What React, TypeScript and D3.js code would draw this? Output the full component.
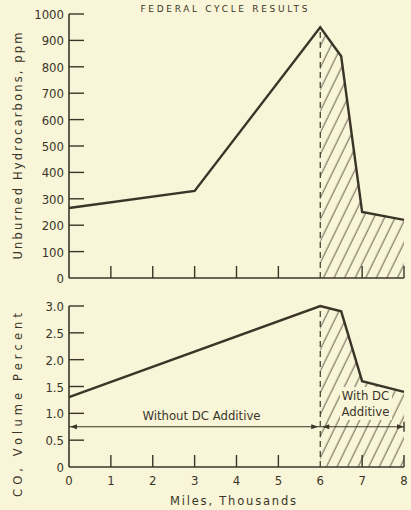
import React from "react";
import * as d3 from "d3";

const W = 411;
const H = 510;

const hcMiles = [0, 3, 6, 6.5, 7, 8];
const hcPpm = [265, 330, 950, 840, 250, 220];
const coMiles = [0, 6, 6.5, 7, 8];
const coPct = [1.3, 3.0, 2.9, 1.6, 1.4];
const hcTicks = [0, 100, 200, 300, 400, 500, 600, 700, 800, 900, 1000];
const coTicks = [0, 0.5, 1.0, 1.5, 2.0, 2.5, 3.0];
const coTickLabels = ["0", "0.5", "1.0", "1.5", "2.0", "2.5", "3.0"];
const mileTicks = [0, 1, 2, 3, 4, 5, 6, 7, 8];
const additiveStart = 6;
const arrowLevel = 0.75;

const INK = "#3a3528";
const BG = "#f9f5d8";
const NUM_FONT = "'Liberation Sans Narrow', 'DejaVu Sans Condensed', sans-serif";
const TXT_FONT = "'DejaVu Sans', sans-serif";

export default function App() {
  const x = d3.scaleLinear().domain([0, 8]).range([69, 404]);
  const yHC = d3.scaleLinear().domain([0, 1000]).range([278, 14]);
  const yCO = d3.scaleLinear().domain([0, 3]).range([467, 306]);

  const hcPts: [number, number][] = hcMiles.map((m, i) => [m, hcPpm[i]]);
  const coPts: [number, number][] = coMiles.map((m, i) => [m, coPct[i]]);

  const lineHC = d3.line<[number, number]>().x((d) => x(d[0])).y((d) => yHC(d[1]));
  const lineCO = d3.line<[number, number]>().x((d) => x(d[0])).y((d) => yCO(d[1]));
  const areaHC = d3
    .area<[number, number]>()
    .x((d) => x(d[0]))
    .y0(yHC(0))
    .y1((d) => yHC(d[1]));
  const areaCO = d3
    .area<[number, number]>()
    .x((d) => x(d[0]))
    .y0(yCO(0))
    .y1((d) => yCO(d[1]));

  const hcHatch = hcPts.filter((d) => d[0] >= additiveStart);
  const coHatch = coPts.filter((d) => d[0] >= additiveStart);
  const hcPeak = hcPts.find((d) => d[0] === additiveStart)![1];
  const coPeak = coPts.find((d) => d[0] === additiveStart)![1];

  const ay = yCO(arrowLevel);
  const arrow = (px: number, dir: number, key: string) => (
    <path
      key={key}
      d={`M${px},${ay} L${px - dir * 7},${ay - 2.5} L${px - dir * 7},${ay + 2.5} Z`}
      fill={INK}
    />
  );

  return (
    <svg
      width={W}
      height={H}
      style={{ position: "absolute", left: 0, top: 0, display: "block" }}
    >
      <defs>
        <pattern
          id="hatch"
          width="9.5"
          height="10"
          patternUnits="userSpaceOnUse"
          patternTransform="rotate(26)"
        >
          <line x1="4" y1="0" x2="4" y2="10" stroke={INK} strokeWidth="0.8" />
        </pattern>
      </defs>
      <rect x={0} y={0} width={W} height={H} fill={BG} />

      {/* Title */}
      <text
        x={224}
        y={12}
        textAnchor="middle"
        fontFamily={TXT_FONT}
        fontSize={9}
        fill={INK}
        textLength={167}
        lengthAdjust="spacing"
      >
        FEDERAL CYCLE RESULTS
      </text>

      {/* ---------- Top panel ---------- */}
      <path d={areaHC(hcHatch) || ""} fill="url(#hatch)" />
      <line
        x1={x(additiveStart)}
        x2={x(additiveStart)}
        y1={yHC(0)}
        y2={yHC(hcPeak)}
        stroke={INK}
        strokeWidth={1.2}
        strokeDasharray="6,4"
      />
      <line x1={x(0)} x2={x(0)} y1={yHC(1000)} y2={yHC(0)} stroke={INK} strokeWidth={1.6} />
      <line x1={x(0)} x2={x(8)} y1={yHC(0)} y2={yHC(0)} stroke={INK} strokeWidth={1.6} />
      {hcTicks.map((t) => (
        <g key={"hy" + t}>
          {t > 0 && (
            <line x1={x(0)} x2={x(0) + 15} y1={yHC(t)} y2={yHC(t)} stroke={INK} strokeWidth={1.4} />
          )}
          <text
            x={64}
            y={yHC(t) + 5}
            textAnchor="end"
            fontFamily={NUM_FONT}
            fontSize={13}
            fill={INK}
          >
            {t}
          </text>
        </g>
      ))}
      {mileTicks
        .filter((m) => m > 0 && m !== additiveStart)
        .map((m) => (
          <line
            key={"hx" + m}
            x1={x(m)}
            x2={x(m)}
            y1={yHC(0)}
            y2={yHC(0) - 12}
            stroke={INK}
            strokeWidth={1.4}
          />
        ))}
      <path d={lineHC(hcPts) || ""} fill="none" stroke={INK} strokeWidth={2.4} strokeLinejoin="miter" />
      <text
        transform={`translate(22,146) rotate(-90)`}
        textAnchor="middle"
        fontFamily={TXT_FONT}
        fontSize={11.5}
        fill={INK}
        textLength={227}
        lengthAdjust="spacing"
      >
        Unburned Hydrocarbons, ppm
      </text>

      {/* ---------- Bottom panel ---------- */}
      <path d={areaCO(coHatch) || ""} fill="url(#hatch)" />
      <rect x={340} y={387} width={52} height={33} fill={BG} />
      <line
        x1={x(additiveStart)}
        x2={x(additiveStart)}
        y1={yCO(0)}
        y2={yCO(coPeak)}
        stroke={INK}
        strokeWidth={1.2}
        strokeDasharray="6,4"
      />
      <line x1={x(0)} x2={x(0)} y1={yCO(3)} y2={yCO(0)} stroke={INK} strokeWidth={1.6} />
      <line x1={x(0)} x2={x(8)} y1={yCO(0)} y2={yCO(0)} stroke={INK} strokeWidth={1.6} />
      {coTicks.map((t, i) => (
        <g key={"cy" + t}>
          {t > 0 && (
            <line x1={x(0)} x2={x(0) + 15} y1={yCO(t)} y2={yCO(t)} stroke={INK} strokeWidth={1.4} />
          )}
          <text
            x={64}
            y={yCO(t) + 5}
            textAnchor="end"
            fontFamily={NUM_FONT}
            fontSize={13}
            fill={INK}
          >
            {coTickLabels[i]}
          </text>
        </g>
      ))}
      {mileTicks.map((m) => (
        <g key={"cx" + m}>
          {m > 0 && m !== additiveStart && (
            <line
              x1={x(m)}
              x2={x(m)}
              y1={yCO(0)}
              y2={yCO(0) - 12}
              stroke={INK}
              strokeWidth={1.4}
            />
          )}
          <text
            x={x(m)}
            y={485}
            textAnchor="middle"
            fontFamily={NUM_FONT}
            fontSize={13}
            fill={INK}
          >
            {m}
          </text>
        </g>
      ))}
      <path d={lineCO(coPts) || ""} fill="none" stroke={INK} strokeWidth={2.4} strokeLinejoin="miter" />

      {/* Arrow line */}
      <line x1={x(0)} x2={x(8)} y1={ay} y2={ay} stroke={INK} strokeWidth={1.2} />
      {arrow(x(0) + 1, -1, "a0")}
      {arrow(x(additiveStart) - 2, 1, "a1")}
      {arrow(x(additiveStart) + 2, -1, "a2")}
      {arrow(x(8), 1, "a3")}
      <line x1={x(8)} x2={x(8)} y1={ay - 5} y2={ay + 5} stroke={INK} strokeWidth={1.4} />

      <text
        x={201.5}
        y={420}
        textAnchor="middle"
        fontFamily={NUM_FONT}
        fontSize={13}
        fill={INK}
      >
        Without DC Additive
      </text>
      <text x={365.5} y={400} textAnchor="middle" fontFamily={NUM_FONT} fontSize={13} fill={INK}>
        With DC
      </text>
      <text x={365.5} y={416} textAnchor="middle" fontFamily={NUM_FONT} fontSize={13} fill={INK}>
        Additive
      </text>

      <text
        transform={`translate(22,405) rotate(-90)`}
        textAnchor="middle"
        fontFamily={TXT_FONT}
        fontSize={11.5}
        fill={INK}
        textLength={184}
        lengthAdjust="spacing"
      >
        CO, Volume Percent
      </text>

      <text
        x={233}
        y={505}
        textAnchor="middle"
        fontFamily={TXT_FONT}
        fontSize={11.5}
        fill={INK}
        textLength={126}
        lengthAdjust="spacing"
      >
        Miles, Thousands
      </text>
    </svg>
  );
}
